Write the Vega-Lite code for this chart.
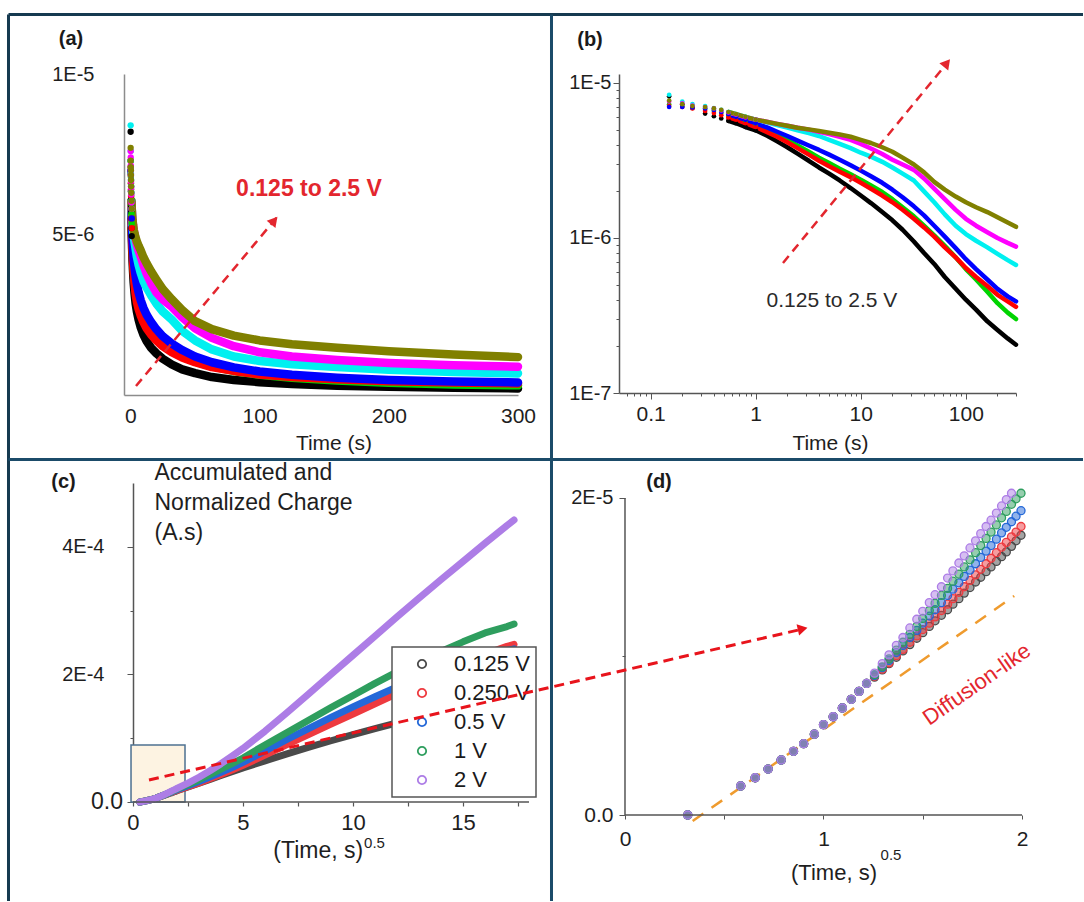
{
"$schema": "https://vega.github.io/schema/vega-lite/v6.json",
"usermeta": {"embedOptions": {"actions": false}},
"background": "white",
"padding": {"left": 6, "top": 12, "right": 0, "bottom": 0},
"autosize": {"type": "pad"},
"config": {
  "font": "Liberation Sans",
  "view": {"stroke": null},
  "axis": {"grid": false, "labelFont": "Liberation Sans", "titleFont": "Liberation Sans", "labelColor": "#1e1e1e", "titleColor": "#1e1e1e", "titleFontWeight": "normal", "labelOverlap": false, "labelFlush": false},
  "legend": {"strokeWidth": 1.5, "labelFont": "Liberation Sans"},
  "text": {"font": "Liberation Sans"}
},
"columns": 2,
"bounds": "flush",
"align": "each",
"spacing": {"row": 88, "column": 90},
"resolve": {"scale": {"color": "independent", "stroke": "independent"}, "legend": {"color": "independent"}},
"datasets": {
"ab": [
{"s":"black","t":0.15,"i":8.2e-6},{"s":"black","t":0.2,"i":7.3e-6},{"s":"black","t":0.25,"i":6.9e-6},{"s":"black","t":0.33,"i":6.35e-6},{"s":"black","t":0.4,"i":6.1e-6},{"s":"black","t":0.47,"i":5.9e-6},{"s":"black","t":0.55,"i":5.7e-6},{"s":"black","t":0.65,"i":5.5e-6},{"s":"black","t":0.8,"i":5.2e-6},{"s":"black","t":1,"i":4.95e-6},{"s":"black","t":1.3,"i":4.55e-6},{"s":"black","t":1.6,"i":4.2e-6},{"s":"black","t":2,"i":3.85e-6},{"s":"black","t":2.5,"i":3.5e-6},{"s":"black","t":3.2,"i":3.15e-6},{"s":"black","t":4,"i":2.85e-6},{"s":"black","t":5,"i":2.6e-6},{"s":"black","t":6.3,"i":2.35e-6},{"s":"black","t":8,"i":2.1e-6},{"s":"black","t":10,"i":1.88e-6},{"s":"black","t":12.5,"i":1.68e-6},{"s":"black","t":16,"i":1.47e-6},{"s":"black","t":20,"i":1.3e-6},{"s":"black","t":25,"i":1.13e-6},{"s":"black","t":32,"i":0.95e-6},{"s":"black","t":40,"i":0.8e-6},{"s":"black","t":50,"i":0.68e-6},{"s":"black","t":63,"i":0.56e-6},{"s":"black","t":80,"i":0.47e-6},{"s":"black","t":100,"i":0.4e-6},{"s":"black","t":125,"i":0.345e-6},{"s":"black","t":160,"i":0.29e-6},{"s":"black","t":200,"i":0.255e-6},{"s":"black","t":250,"i":0.225e-6},{"s":"black","t":300,"i":0.205e-6},
{"s":"green","t":0.15,"i":7.3e-6},{"s":"green","t":0.2,"i":7.1e-6},{"s":"green","t":0.25,"i":6.95e-6},{"s":"green","t":0.33,"i":6.8e-6},{"s":"green","t":0.4,"i":6.6e-6},{"s":"green","t":0.47,"i":6.4e-6},{"s":"green","t":0.55,"i":6.2e-6},{"s":"green","t":0.65,"i":5.95e-6},{"s":"green","t":0.8,"i":5.65e-6},{"s":"green","t":1,"i":5.35e-6},{"s":"green","t":1.3,"i":4.95e-6},{"s":"green","t":1.6,"i":4.65e-6},{"s":"green","t":2,"i":4.3e-6},{"s":"green","t":2.5,"i":3.95e-6},{"s":"green","t":3.2,"i":3.6e-6},{"s":"green","t":4,"i":3.3e-6},{"s":"green","t":5,"i":3.05e-6},{"s":"green","t":6.3,"i":2.8e-6},{"s":"green","t":8,"i":2.58e-6},{"s":"green","t":10,"i":2.38e-6},{"s":"green","t":12.5,"i":2.18e-6},{"s":"green","t":16,"i":1.98e-6},{"s":"green","t":20,"i":1.78e-6},{"s":"green","t":25,"i":1.58e-6},{"s":"green","t":32,"i":1.38e-6},{"s":"green","t":40,"i":1.2e-6},{"s":"green","t":50,"i":1.04e-6},{"s":"green","t":63,"i":0.89e-6},{"s":"green","t":80,"i":0.75e-6},{"s":"green","t":100,"i":0.63e-6},{"s":"green","t":125,"i":0.54e-6},{"s":"green","t":160,"i":0.45e-6},{"s":"green","t":200,"i":0.38e-6},{"s":"green","t":250,"i":0.33e-6},{"s":"green","t":300,"i":0.3e-6},
{"s":"red","t":0.15,"i":7.1e-6},{"s":"red","t":0.2,"i":7.0e-6},{"s":"red","t":0.25,"i":6.85e-6},{"s":"red","t":0.33,"i":6.6e-6},{"s":"red","t":0.4,"i":6.4e-6},{"s":"red","t":0.47,"i":6.2e-6},{"s":"red","t":0.55,"i":6.0e-6},{"s":"red","t":0.65,"i":5.8e-6},{"s":"red","t":0.8,"i":5.5e-6},{"s":"red","t":1,"i":5.2e-6},{"s":"red","t":1.3,"i":4.8e-6},{"s":"red","t":1.6,"i":4.5e-6},{"s":"red","t":2,"i":4.15e-6},{"s":"red","t":2.5,"i":3.8e-6},{"s":"red","t":3.2,"i":3.45e-6},{"s":"red","t":4,"i":3.15e-6},{"s":"red","t":5,"i":2.9e-6},{"s":"red","t":6.3,"i":2.68e-6},{"s":"red","t":8,"i":2.47e-6},{"s":"red","t":10,"i":2.27e-6},{"s":"red","t":12.5,"i":2.08e-6},{"s":"red","t":16,"i":1.88e-6},{"s":"red","t":20,"i":1.7e-6},{"s":"red","t":25,"i":1.52e-6},{"s":"red","t":32,"i":1.33e-6},{"s":"red","t":40,"i":1.17e-6},{"s":"red","t":50,"i":1.02e-6},{"s":"red","t":63,"i":0.87e-6},{"s":"red","t":80,"i":0.75e-6},{"s":"red","t":100,"i":0.64e-6},{"s":"red","t":125,"i":0.56e-6},{"s":"red","t":160,"i":0.49e-6},{"s":"red","t":200,"i":0.43e-6},{"s":"red","t":250,"i":0.39e-6},{"s":"red","t":300,"i":0.36e-6},
{"s":"blue","t":0.15,"i":7.0e-6},{"s":"blue","t":0.2,"i":7.0e-6},{"s":"blue","t":0.25,"i":6.95e-6},{"s":"blue","t":0.33,"i":6.85e-6},{"s":"blue","t":0.4,"i":6.7e-6},{"s":"blue","t":0.47,"i":6.5e-6},{"s":"blue","t":0.55,"i":6.3e-6},{"s":"blue","t":0.65,"i":6.05e-6},{"s":"blue","t":0.8,"i":5.8e-6},{"s":"blue","t":1,"i":5.5e-6},{"s":"blue","t":1.3,"i":5.15e-6},{"s":"blue","t":1.6,"i":4.85e-6},{"s":"blue","t":2,"i":4.55e-6},{"s":"blue","t":2.5,"i":4.25e-6},{"s":"blue","t":3.2,"i":3.95e-6},{"s":"blue","t":4,"i":3.7e-6},{"s":"blue","t":5,"i":3.45e-6},{"s":"blue","t":6.3,"i":3.2e-6},{"s":"blue","t":8,"i":2.95e-6},{"s":"blue","t":10,"i":2.72e-6},{"s":"blue","t":12.5,"i":2.5e-6},{"s":"blue","t":16,"i":2.27e-6},{"s":"blue","t":20,"i":2.05e-6},{"s":"blue","t":25,"i":1.83e-6},{"s":"blue","t":32,"i":1.6e-6},{"s":"blue","t":40,"i":1.4e-6},{"s":"blue","t":50,"i":1.2e-6},{"s":"blue","t":63,"i":1.02e-6},{"s":"blue","t":80,"i":0.86e-6},{"s":"blue","t":100,"i":0.73e-6},{"s":"blue","t":125,"i":0.63e-6},{"s":"blue","t":160,"i":0.54e-6},{"s":"blue","t":200,"i":0.47e-6},{"s":"blue","t":250,"i":0.42e-6},{"s":"blue","t":300,"i":0.39e-6},
{"s":"cyan","t":0.15,"i":8.4e-6},{"s":"cyan","t":0.2,"i":7.6e-6},{"s":"cyan","t":0.25,"i":7.3e-6},{"s":"cyan","t":0.33,"i":7.1e-6},{"s":"cyan","t":0.4,"i":6.9e-6},{"s":"cyan","t":0.47,"i":6.7e-6},{"s":"cyan","t":0.55,"i":6.5e-6},{"s":"cyan","t":0.65,"i":6.3e-6},{"s":"cyan","t":0.8,"i":6.05e-6},{"s":"cyan","t":1,"i":5.8e-6},{"s":"cyan","t":1.3,"i":5.55e-6},{"s":"cyan","t":1.6,"i":5.35e-6},{"s":"cyan","t":2,"i":5.15e-6},{"s":"cyan","t":2.5,"i":4.95e-6},{"s":"cyan","t":3.2,"i":4.75e-6},{"s":"cyan","t":4,"i":4.55e-6},{"s":"cyan","t":5,"i":4.3e-6},{"s":"cyan","t":6.3,"i":4.05e-6},{"s":"cyan","t":8,"i":3.8e-6},{"s":"cyan","t":10,"i":3.55e-6},{"s":"cyan","t":12.5,"i":3.35e-6},{"s":"cyan","t":16,"i":3.1e-6},{"s":"cyan","t":20,"i":2.85e-6},{"s":"cyan","t":25,"i":2.6e-6},{"s":"cyan","t":32,"i":2.35e-6},{"s":"cyan","t":40,"i":2.0e-6},{"s":"cyan","t":50,"i":1.7e-6},{"s":"cyan","t":63,"i":1.42e-6},{"s":"cyan","t":80,"i":1.2e-6},{"s":"cyan","t":100,"i":1.06e-6},{"s":"cyan","t":125,"i":0.96e-6},{"s":"cyan","t":160,"i":0.87e-6},{"s":"cyan","t":200,"i":0.79e-6},{"s":"cyan","t":250,"i":0.72e-6},{"s":"cyan","t":300,"i":0.67e-6},
{"s":"magenta","t":0.15,"i":7.6e-6},{"s":"magenta","t":0.2,"i":7.4e-6},{"s":"magenta","t":0.25,"i":7.15e-6},{"s":"magenta","t":0.33,"i":7.0e-6},{"s":"magenta","t":0.4,"i":6.85e-6},{"s":"magenta","t":0.47,"i":6.65e-6},{"s":"magenta","t":0.55,"i":6.45e-6},{"s":"magenta","t":0.65,"i":6.25e-6},{"s":"magenta","t":0.8,"i":6.0e-6},{"s":"magenta","t":1,"i":5.8e-6},{"s":"magenta","t":1.3,"i":5.6e-6},{"s":"magenta","t":1.6,"i":5.45e-6},{"s":"magenta","t":2,"i":5.3e-6},{"s":"magenta","t":2.5,"i":5.15e-6},{"s":"magenta","t":3.2,"i":5.0e-6},{"s":"magenta","t":4,"i":4.85e-6},{"s":"magenta","t":5,"i":4.68e-6},{"s":"magenta","t":6.3,"i":4.5e-6},{"s":"magenta","t":8,"i":4.3e-6},{"s":"magenta","t":10,"i":4.05e-6},{"s":"magenta","t":12.5,"i":3.78e-6},{"s":"magenta","t":16,"i":3.48e-6},{"s":"magenta","t":20,"i":3.2e-6},{"s":"magenta","t":25,"i":2.98e-6},{"s":"magenta","t":32,"i":2.75e-6},{"s":"magenta","t":40,"i":2.42e-6},{"s":"magenta","t":50,"i":2.08e-6},{"s":"magenta","t":63,"i":1.78e-6},{"s":"magenta","t":80,"i":1.52e-6},{"s":"magenta","t":100,"i":1.33e-6},{"s":"magenta","t":125,"i":1.2e-6},{"s":"magenta","t":160,"i":1.09e-6},{"s":"magenta","t":200,"i":1.0e-6},{"s":"magenta","t":250,"i":0.93e-6},{"s":"magenta","t":300,"i":0.88e-6},
{"s":"olive","t":0.15,"i":7.7e-6},{"s":"olive","t":0.2,"i":7.3e-6},{"s":"olive","t":0.25,"i":7.1e-6},{"s":"olive","t":0.33,"i":7.0e-6},{"s":"olive","t":0.4,"i":6.85e-6},{"s":"olive","t":0.47,"i":6.7e-6},{"s":"olive","t":0.55,"i":6.5e-6},{"s":"olive","t":0.65,"i":6.3e-6},{"s":"olive","t":0.8,"i":6.05e-6},{"s":"olive","t":1,"i":5.8e-6},{"s":"olive","t":1.3,"i":5.6e-6},{"s":"olive","t":1.6,"i":5.45e-6},{"s":"olive","t":2,"i":5.3e-6},{"s":"olive","t":2.5,"i":5.15e-6},{"s":"olive","t":3.2,"i":5.02e-6},{"s":"olive","t":4,"i":4.9e-6},{"s":"olive","t":5,"i":4.78e-6},{"s":"olive","t":6.3,"i":4.65e-6},{"s":"olive","t":8,"i":4.5e-6},{"s":"olive","t":10,"i":4.3e-6},{"s":"olive","t":12.5,"i":4.1e-6},{"s":"olive","t":16,"i":3.85e-6},{"s":"olive","t":20,"i":3.6e-6},{"s":"olive","t":25,"i":3.3e-6},{"s":"olive","t":32,"i":2.98e-6},{"s":"olive","t":40,"i":2.65e-6},{"s":"olive","t":50,"i":2.3e-6},{"s":"olive","t":63,"i":2.05e-6},{"s":"olive","t":80,"i":1.85e-6},{"s":"olive","t":100,"i":1.7e-6},{"s":"olive","t":125,"i":1.58e-6},{"s":"olive","t":160,"i":1.47e-6},{"s":"olive","t":200,"i":1.36e-6},{"s":"olive","t":250,"i":1.26e-6},{"s":"olive","t":300,"i":1.18e-6}
],
"cd": [
{"s":"0.125 V","v":0.316,"q":0},{"s":"0.125 V","v":0.583,"q":1.83e-6},{"s":"0.125 V","v":0.656,"q":2.35e-6},{"s":"0.125 V","v":0.721,"q":2.9e-6},{"s":"0.125 V","v":0.787,"q":3.47e-6},{"s":"0.125 V","v":0.849,"q":4.02e-6},{"s":"0.125 V","v":0.9,"q":4.5e-6},{"s":"0.125 V","v":0.954,"q":5.1e-6},{"s":"0.125 V","v":1.0,"q":5.7e-6},{"s":"0.125 V","v":1.049,"q":6.2e-6},{"s":"0.125 V","v":1.095,"q":6.75e-6},{"s":"0.125 V","v":1.14,"q":7.3e-6},{"s":"0.125 V","v":1.179,"q":7.8e-6},{"s":"0.125 V","v":1.217,"q":8.3e-6},
{"s":"0.125 V","v":1.257,"q":8.7e-6},{"s":"0.125 V","v":1.296,"q":9.15e-6},{"s":"0.125 V","v":1.33,"q":9.55e-6},{"s":"0.125 V","v":1.367,"q":9.95e-6},{"s":"0.125 V","v":1.4,"q":10.35e-6},{"s":"0.125 V","v":1.435,"q":10.75e-6},{"s":"0.125 V","v":1.47,"q":11.15e-6},{"s":"0.125 V","v":1.5,"q":11.5e-6},{"s":"0.125 V","v":1.533,"q":11.9e-6},{"s":"0.125 V","v":1.562,"q":12.25e-6},{"s":"0.125 V","v":1.594,"q":12.6e-6},{"s":"0.125 V","v":1.625,"q":12.95e-6},{"s":"0.125 V","v":1.652,"q":13.3e-6},{"s":"0.125 V","v":1.682,"q":13.65e-6},{"s":"0.125 V","v":1.709,"q":14.0e-6},{"s":"0.125 V","v":1.738,"q":14.35e-6},{"s":"0.125 V","v":1.766,"q":14.7e-6},{"s":"0.125 V","v":1.792,"q":15.0e-6},{"s":"0.125 V","v":1.819,"q":15.35e-6},{"s":"0.125 V","v":1.844,"q":15.65e-6},{"s":"0.125 V","v":1.871,"q":16.0e-6},{"s":"0.125 V","v":1.897,"q":16.3e-6},{"s":"0.125 V","v":1.921,"q":16.6e-6},{"s":"0.125 V","v":1.947,"q":16.95e-6},{"s":"0.125 V","v":1.97,"q":17.3e-6},{"s":"0.125 V","v":1.995,"q":17.65e-6},
{"s":"0.125 V","v":2.5,"q":23.5e-6},{"s":"0.125 V","v":3,"q":29.5e-6},{"s":"0.125 V","v":3.5,"q":35.5e-6},{"s":"0.125 V","v":4,"q":41.5e-6},{"s":"0.125 V","v":4.5,"q":47.5e-6},{"s":"0.125 V","v":5,"q":53.5e-6},{"s":"0.125 V","v":6,"q":64.5e-6},{"s":"0.125 V","v":7,"q":75.5e-6},{"s":"0.125 V","v":8,"q":86e-6},{"s":"0.125 V","v":9,"q":96e-6},{"s":"0.125 V","v":10,"q":105.5e-6},{"s":"0.125 V","v":11,"q":115e-6},{"s":"0.125 V","v":12,"q":124e-6},{"s":"0.125 V","v":13,"q":133e-6},{"s":"0.125 V","v":14,"q":141.5e-6},{"s":"0.125 V","v":15,"q":150e-6},{"s":"0.125 V","v":16,"q":158e-6},{"s":"0.125 V","v":17,"q":166e-6},{"s":"0.125 V","v":17.32,"q":168.5e-6},
{"s":"0.250 V","v":0.316,"q":0},{"s":"0.250 V","v":0.583,"q":1.83e-6},{"s":"0.250 V","v":0.656,"q":2.35e-6},{"s":"0.250 V","v":0.721,"q":2.9e-6},{"s":"0.250 V","v":0.787,"q":3.47e-6},{"s":"0.250 V","v":0.849,"q":4.02e-6},{"s":"0.250 V","v":0.9,"q":4.5e-6},{"s":"0.250 V","v":0.954,"q":5.1e-6},{"s":"0.250 V","v":1.0,"q":5.7e-6},{"s":"0.250 V","v":1.049,"q":6.2e-6},{"s":"0.250 V","v":1.095,"q":6.75e-6},{"s":"0.250 V","v":1.14,"q":7.3e-6},{"s":"0.250 V","v":1.179,"q":7.8e-6},{"s":"0.250 V","v":1.217,"q":8.3e-6},
{"s":"0.250 V","v":1.257,"q":8.75e-6},{"s":"0.250 V","v":1.296,"q":9.2e-6},{"s":"0.250 V","v":1.33,"q":9.6e-6},{"s":"0.250 V","v":1.367,"q":10.05e-6},{"s":"0.250 V","v":1.4,"q":10.45e-6},{"s":"0.250 V","v":1.435,"q":10.9e-6},{"s":"0.250 V","v":1.47,"q":11.3e-6},{"s":"0.250 V","v":1.5,"q":11.7e-6},{"s":"0.250 V","v":1.533,"q":12.1e-6},{"s":"0.250 V","v":1.562,"q":12.5e-6},{"s":"0.250 V","v":1.594,"q":12.9e-6},{"s":"0.250 V","v":1.625,"q":13.3e-6},{"s":"0.250 V","v":1.652,"q":13.65e-6},{"s":"0.250 V","v":1.682,"q":14.05e-6},{"s":"0.250 V","v":1.709,"q":14.4e-6},{"s":"0.250 V","v":1.738,"q":14.8e-6},{"s":"0.250 V","v":1.766,"q":15.15e-6},{"s":"0.250 V","v":1.792,"q":15.5e-6},{"s":"0.250 V","v":1.819,"q":15.85e-6},{"s":"0.250 V","v":1.844,"q":16.2e-6},{"s":"0.250 V","v":1.871,"q":16.55e-6},{"s":"0.250 V","v":1.897,"q":16.9e-6},{"s":"0.250 V","v":1.921,"q":17.2e-6},{"s":"0.250 V","v":1.947,"q":17.55e-6},{"s":"0.250 V","v":1.97,"q":17.85e-6},{"s":"0.250 V","v":1.995,"q":18.2e-6},
{"s":"0.250 V","v":2.5,"q":24e-6},{"s":"0.250 V","v":3,"q":30e-6},{"s":"0.250 V","v":3.5,"q":36.5e-6},{"s":"0.250 V","v":4,"q":43e-6},{"s":"0.250 V","v":4.5,"q":50e-6},{"s":"0.250 V","v":5,"q":57.5e-6},{"s":"0.250 V","v":6,"q":73.5e-6},{"s":"0.250 V","v":7,"q":90e-6},{"s":"0.250 V","v":8,"q":106e-6},{"s":"0.250 V","v":9,"q":122e-6},{"s":"0.250 V","v":10,"q":138e-6},{"s":"0.250 V","v":11,"q":154e-6},{"s":"0.250 V","v":12,"q":170e-6},{"s":"0.250 V","v":13,"q":186e-6},{"s":"0.250 V","v":14,"q":202e-6},{"s":"0.250 V","v":15,"q":217e-6},{"s":"0.250 V","v":16,"q":232e-6},{"s":"0.250 V","v":17,"q":244e-6},{"s":"0.250 V","v":17.32,"q":247e-6},
{"s":"0.5 V","v":0.316,"q":0},{"s":"0.5 V","v":0.583,"q":1.83e-6},{"s":"0.5 V","v":0.656,"q":2.35e-6},{"s":"0.5 V","v":0.721,"q":2.9e-6},{"s":"0.5 V","v":0.787,"q":3.47e-6},{"s":"0.5 V","v":0.849,"q":4.02e-6},{"s":"0.5 V","v":0.9,"q":4.5e-6},{"s":"0.5 V","v":0.954,"q":5.1e-6},{"s":"0.5 V","v":1.0,"q":5.7e-6},{"s":"0.5 V","v":1.049,"q":6.2e-6},{"s":"0.5 V","v":1.095,"q":6.75e-6},{"s":"0.5 V","v":1.14,"q":7.3e-6},{"s":"0.5 V","v":1.179,"q":7.8e-6},{"s":"0.5 V","v":1.217,"q":8.3e-6},
{"s":"0.5 V","v":1.257,"q":8.8e-6},{"s":"0.5 V","v":1.296,"q":9.3e-6},{"s":"0.5 V","v":1.33,"q":9.75e-6},{"s":"0.5 V","v":1.367,"q":10.25e-6},{"s":"0.5 V","v":1.4,"q":10.7e-6},{"s":"0.5 V","v":1.435,"q":11.2e-6},{"s":"0.5 V","v":1.47,"q":11.65e-6},{"s":"0.5 V","v":1.5,"q":12.1e-6},{"s":"0.5 V","v":1.533,"q":12.55e-6},{"s":"0.5 V","v":1.562,"q":12.95e-6},{"s":"0.5 V","v":1.594,"q":13.4e-6},{"s":"0.5 V","v":1.625,"q":13.85e-6},{"s":"0.5 V","v":1.652,"q":14.25e-6},{"s":"0.5 V","v":1.682,"q":14.65e-6},{"s":"0.5 V","v":1.709,"q":15.05e-6},{"s":"0.5 V","v":1.738,"q":15.45e-6},{"s":"0.5 V","v":1.766,"q":15.85e-6},{"s":"0.5 V","v":1.792,"q":16.25e-6},{"s":"0.5 V","v":1.819,"q":16.65e-6},{"s":"0.5 V","v":1.844,"q":17.0e-6},{"s":"0.5 V","v":1.871,"q":17.4e-6},{"s":"0.5 V","v":1.897,"q":17.8e-6},{"s":"0.5 V","v":1.921,"q":18.15e-6},{"s":"0.5 V","v":1.947,"q":18.5e-6},{"s":"0.5 V","v":1.97,"q":18.85e-6},{"s":"0.5 V","v":1.995,"q":19.2e-6},
{"s":"0.5 V","v":2.5,"q":25.5e-6},{"s":"0.5 V","v":3,"q":32e-6},{"s":"0.5 V","v":3.5,"q":39e-6},{"s":"0.5 V","v":4,"q":46.5e-6},{"s":"0.5 V","v":4.5,"q":54e-6},{"s":"0.5 V","v":5,"q":62e-6},{"s":"0.5 V","v":6,"q":80e-6},{"s":"0.5 V","v":7,"q":98e-6},{"s":"0.5 V","v":8,"q":115.5e-6},{"s":"0.5 V","v":9,"q":132.5e-6},{"s":"0.5 V","v":10,"q":149e-6},{"s":"0.5 V","v":11,"q":165e-6},{"s":"0.5 V","v":12,"q":180.5e-6},{"s":"0.5 V","v":13,"q":194e-6},{"s":"0.5 V","v":14,"q":206.5e-6},{"s":"0.5 V","v":15,"q":218e-6},{"s":"0.5 V","v":16,"q":228.5e-6},{"s":"0.5 V","v":17,"q":237.5e-6},{"s":"0.5 V","v":17.32,"q":240e-6},
{"s":"1 V","v":0.316,"q":0},{"s":"1 V","v":0.583,"q":1.83e-6},{"s":"1 V","v":0.656,"q":2.35e-6},{"s":"1 V","v":0.721,"q":2.9e-6},{"s":"1 V","v":0.787,"q":3.47e-6},{"s":"1 V","v":0.849,"q":4.02e-6},{"s":"1 V","v":0.9,"q":4.5e-6},{"s":"1 V","v":0.954,"q":5.1e-6},{"s":"1 V","v":1.0,"q":5.7e-6},{"s":"1 V","v":1.049,"q":6.2e-6},{"s":"1 V","v":1.095,"q":6.75e-6},{"s":"1 V","v":1.14,"q":7.3e-6},{"s":"1 V","v":1.179,"q":7.8e-6},{"s":"1 V","v":1.217,"q":8.3e-6},
{"s":"1 V","v":1.257,"q":8.85e-6},{"s":"1 V","v":1.296,"q":9.35e-6},{"s":"1 V","v":1.33,"q":9.85e-6},{"s":"1 V","v":1.367,"q":10.4e-6},{"s":"1 V","v":1.4,"q":10.9e-6},{"s":"1 V","v":1.435,"q":11.4e-6},{"s":"1 V","v":1.47,"q":11.9e-6},{"s":"1 V","v":1.5,"q":12.4e-6},{"s":"1 V","v":1.533,"q":12.9e-6},{"s":"1 V","v":1.562,"q":13.35e-6},{"s":"1 V","v":1.594,"q":13.85e-6},{"s":"1 V","v":1.625,"q":14.3e-6},{"s":"1 V","v":1.652,"q":14.75e-6},{"s":"1 V","v":1.682,"q":15.2e-6},{"s":"1 V","v":1.709,"q":15.65e-6},{"s":"1 V","v":1.738,"q":16.1e-6},{"s":"1 V","v":1.766,"q":16.55e-6},{"s":"1 V","v":1.792,"q":17.0e-6},{"s":"1 V","v":1.819,"q":17.45e-6},{"s":"1 V","v":1.844,"q":17.85e-6},{"s":"1 V","v":1.871,"q":18.3e-6},{"s":"1 V","v":1.897,"q":18.75e-6},{"s":"1 V","v":1.921,"q":19.15e-6},{"s":"1 V","v":1.947,"q":19.6e-6},{"s":"1 V","v":1.97,"q":19.95e-6},{"s":"1 V","v":1.995,"q":20.3e-6},
{"s":"1 V","v":2.5,"q":27.5e-6},{"s":"1 V","v":3,"q":35e-6},{"s":"1 V","v":3.5,"q":43e-6},{"s":"1 V","v":4,"q":51.5e-6},{"s":"1 V","v":4.5,"q":60e-6},{"s":"1 V","v":5,"q":69e-6},{"s":"1 V","v":6,"q":89.5e-6},{"s":"1 V","v":7,"q":109e-6},{"s":"1 V","v":8,"q":128.5e-6},{"s":"1 V","v":9,"q":148e-6},{"s":"1 V","v":10,"q":167e-6},{"s":"1 V","v":11,"q":186e-6},{"s":"1 V","v":12,"q":204e-6},{"s":"1 V","v":13,"q":220e-6},{"s":"1 V","v":14,"q":236e-6},{"s":"1 V","v":15,"q":251e-6},{"s":"1 V","v":16,"q":265e-6},{"s":"1 V","v":17,"q":275e-6},{"s":"1 V","v":17.32,"q":279e-6},
{"s":"2 V","v":0.316,"q":0},{"s":"2 V","v":0.583,"q":1.83e-6},{"s":"2 V","v":0.656,"q":2.35e-6},{"s":"2 V","v":0.721,"q":2.9e-6},{"s":"2 V","v":0.787,"q":3.47e-6},{"s":"2 V","v":0.849,"q":4.02e-6},{"s":"2 V","v":0.9,"q":4.5e-6},{"s":"2 V","v":0.954,"q":5.1e-6},{"s":"2 V","v":1.0,"q":5.7e-6},{"s":"2 V","v":1.049,"q":6.2e-6},{"s":"2 V","v":1.095,"q":6.75e-6},{"s":"2 V","v":1.14,"q":7.3e-6},{"s":"2 V","v":1.179,"q":7.8e-6},{"s":"2 V","v":1.217,"q":8.3e-6},
{"s":"2 V","v":1.257,"q":8.95e-6},{"s":"2 V","v":1.296,"q":9.55e-6},{"s":"2 V","v":1.33,"q":10.1e-6},{"s":"2 V","v":1.367,"q":10.7e-6},{"s":"2 V","v":1.4,"q":11.2e-6},{"s":"2 V","v":1.435,"q":11.8e-6},{"s":"2 V","v":1.47,"q":12.35e-6},{"s":"2 V","v":1.5,"q":12.85e-6},{"s":"2 V","v":1.533,"q":13.4e-6},{"s":"2 V","v":1.562,"q":13.9e-6},{"s":"2 V","v":1.594,"q":14.4e-6},{"s":"2 V","v":1.625,"q":14.95e-6},{"s":"2 V","v":1.652,"q":15.4e-6},{"s":"2 V","v":1.682,"q":15.9e-6},{"s":"2 V","v":1.709,"q":16.35e-6},{"s":"2 V","v":1.738,"q":16.85e-6},{"s":"2 V","v":1.766,"q":17.3e-6},{"s":"2 V","v":1.792,"q":17.75e-6},{"s":"2 V","v":1.819,"q":18.2e-6},{"s":"2 V","v":1.844,"q":18.6e-6},{"s":"2 V","v":1.871,"q":19.05e-6},{"s":"2 V","v":1.897,"q":19.5e-6},{"s":"2 V","v":1.921,"q":19.9e-6},{"s":"2 V","v":1.947,"q":20.3e-6},{"s":"2 V","v":1.97,"q":20.7e-6},{"s":"2 V","v":1.995,"q":21.1e-6},
{"s":"2 V","v":2.5,"q":29.5e-6},{"s":"2 V","v":3,"q":38.8e-6},{"s":"2 V","v":3.5,"q":49e-6},{"s":"2 V","v":4,"q":60e-6},{"s":"2 V","v":4.5,"q":71.8e-6},{"s":"2 V","v":5,"q":84e-6},{"s":"2 V","v":6,"q":111e-6},{"s":"2 V","v":7,"q":140e-6},{"s":"2 V","v":8,"q":170e-6},{"s":"2 V","v":9,"q":200e-6},{"s":"2 V","v":10,"q":230e-6},{"s":"2 V","v":11,"q":260e-6},{"s":"2 V","v":12,"q":290e-6},{"s":"2 V","v":13,"q":319.5e-6},{"s":"2 V","v":14,"q":348.5e-6},{"s":"2 V","v":15,"q":377e-6},{"s":"2 V","v":16,"q":405.5e-6},{"s":"2 V","v":17,"q":433.5e-6},{"s":"2 V","v":17.32,"q":442e-6}
]
},
"concat": [
{
  "width": 394, "height": 321,
  "layer": [
    {"data": {"name": "ab"}, "transform": [{"filter": "datum.t >= 0.8"}],
     "mark": {"type": "line", "strokeWidth": 8.5, "strokeCap": "round", "strokeJoin": "round"},
     "encoding": {
       "x": {"field": "t", "type": "quantitative", "scale": {"domain": [-5, 300], "nice": false, "zero": false},
             "axis": {"values": [0, 100, 200, 300], "title": "Time (s)", "domainColor": "#8c8c8c", "domainWidth": 1.5, "ticks": false, "labelFontSize": 21, "labelPadding": 10, "titleFontSize": 21, "titleX": 209.5, "titleY": 54.3, "titleAlign": "center", "titleBaseline": "alphabetic", "titleAnchor": null}},
       "y": {"field": "i", "type": "quantitative", "scale": {"domain": [0, 1e-5], "nice": false, "zero": false},
             "axis": {"values": [5e-6, 1e-5], "title": null, "labelExpr": "replace(format(datum.value, '.0e'), 'e', 'E')", "domainColor": "#8c8c8c", "domainWidth": 1.5, "ticks": false, "labelFontSize": 20, "labelPadding": 30}},
       "color": {"field": "s", "type": "nominal", "scale": {"domain": ["black", "green", "red", "blue", "cyan", "magenta", "olive"], "range": ["#000000", "#00d400", "#ff0000", "#0000ff", "#00f0f0", "#ff00ff", "#808000"]}, "legend": null}
     }},
    {"data": {"name": "ab"}, "transform": [{"filter": "datum.t <= 1"}],
     "mark": {"type": "circle", "size": 40, "opacity": 1},
     "encoding": {"x": {"field": "t", "type": "quantitative"}, "y": {"field": "i", "type": "quantitative"}, "color": {"field": "s", "type": "nominal", "legend": null}}},
    {"data": {"values": [{}]}, "mark": {"type": "rule", "color": "#e3262e", "strokeWidth": 2.5, "strokeDash": [9, 6]},
     "encoding": {"x": {"datum": 4.29}, "y": {"datum": 2.804e-7}, "x2": {"datum": 114.2}, "y2": {"datum": 5.5763e-6}}},
    {"data": {"values": [{}]}, "mark": {"type": "point", "shape": "triangle-up", "filled": true, "size": 130, "angle": 40, "color": "#e3262e", "opacity": 1},
     "encoding": {"x": {"datum": 111.3}, "y": {"datum": 5.433e-6}}},
    {"data": {"values": [{}]}, "mark": {"type": "text", "text": "0.125 to 2.5 V", "fontSize": 23, "fontWeight": "bold", "color": "#e3262e", "align": "center", "baseline": "middle"},
     "encoding": {"x": {"datum": 138.2}, "y": {"datum": 6.4174e-6}}},
    {"data": {"values": [{}]}, "mark": {"type": "text", "text": "(a)", "fontSize": 20, "fontWeight": "bold", "color": "#1a1a1a", "align": "center", "baseline": "middle"},
     "encoding": {"x": {"datum": -46.03}, "y": {"datum": 1.10903e-5}}},
    {"data": {"values": [{}]}, "mark": {"type": "rule", "color": "#163a50", "strokeWidth": 3},
     "encoding": {"x": {"datum": -94.41}, "y": {"datum": 1.18536e-5}, "x2": {"datum": 737.37}, "y2": {"datum": 1.18536e-5}}},
    {"data": {"values": [{}]}, "mark": {"type": "rule", "color": "#163a50", "strokeWidth": 3},
     "encoding": {"x": {"datum": -94.41}, "y": {"datum": 1.18536e-5}, "x2": {"datum": -94.41}, "y2": {"datum": -1.57632e-5}}},
    {"data": {"values": [{}]}, "mark": {"type": "rule", "color": "#1b4b69", "strokeWidth": 3},
     "encoding": {"x": {"datum": 325.93}, "y": {"datum": 1.18536e-5}, "x2": {"datum": 325.93}, "y2": {"datum": -1.57632e-5}}},
    {"data": {"values": [{}]}, "mark": {"type": "rule", "color": "#1b4b69", "strokeWidth": 3},
     "encoding": {"x": {"datum": -94.41}, "y": {"datum": -2.00934e-6}, "x2": {"datum": 737.37}, "y2": {"datum": -2.00934e-6}}}
  ]
},
{
  "width": 397, "height": 319,
  "layer": [
    {"data": {"name": "ab"}, "transform": [{"filter": "datum.t >= 0.55"}],
     "mark": {"type": "line", "strokeWidth": 4.5, "strokeCap": "round", "strokeJoin": "round"},
     "encoding": {
       "x": {"field": "t", "type": "quantitative", "scale": {"type": "log", "domain": [0.05, 300], "nice": false},
             "axis": {"values": [0.06,0.07,0.08,0.09,0.1,0.2,0.3,0.4,0.5,0.6,0.7,0.8,0.9,1,2,3,4,5,6,7,8,9,10,20,30,40,50,60,70,80,90,100,200,300],
                      "labelExpr": "datum.value == 0.1 ? '0.1' : datum.value == 1 ? '1' : datum.value == 10 ? '10' : datum.value == 100 ? '100' : ''",
                      "tickSize": {"condition": {"test": "datum.value == 0.1 || datum.value == 1 || datum.value == 10 || datum.value == 100", "value": 6}, "value": 3},
                      "tickColor": "#555", "domainColor": "#555", "domainWidth": 1.5, "labelFontSize": 21, "labelPadding": 4,
                      "title": "Time (s)", "titleFontSize": 21, "titleX": 211, "titleY": 56.3, "titleAlign": "center", "titleBaseline": "alphabetic", "titleAnchor": null}},
       "y": {"field": "i", "type": "quantitative", "scale": {"type": "log", "domain": [1e-7, 1.143e-5], "nice": false},
             "axis": {"values": [1e-7,2e-7,3e-7,4e-7,5e-7,6e-7,7e-7,8e-7,9e-7,1e-6,2e-6,3e-6,4e-6,5e-6,6e-6,7e-6,8e-6,9e-6,1e-5],
                      "labelExpr": "datum.value == 1e-7 ? '1E-7' : datum.value == 1e-6 ? '1E-6' : datum.value == 1e-5 ? '1E-5' : ''",
                      "tickSize": {"condition": {"test": "datum.value == 1e-7 || datum.value == 1e-6 || datum.value == 1e-5", "value": 6}, "value": 3},
                      "tickColor": "#555", "domainColor": "#555", "domainWidth": 1.5, "labelFontSize": 20, "labelPadding": 2, "title": null}},
       "color": {"field": "s", "type": "nominal", "scale": {"domain": ["black", "green", "red", "blue", "cyan", "magenta", "olive"], "range": ["#000000", "#00d400", "#ff0000", "#0000ff", "#00f0f0", "#ff00ff", "#808000"]}, "legend": null}
     }},
    {"data": {"name": "ab"}, "transform": [{"filter": "datum.t <= 1"}],
     "mark": {"type": "circle", "size": 22, "opacity": 1},
     "encoding": {"x": {"field": "t", "type": "quantitative"}, "y": {"field": "i", "type": "quantitative"}, "color": {"field": "s", "type": "nominal", "legend": null}}},
    {"data": {"values": [{}]}, "mark": {"type": "rule", "color": "#e3262e", "strokeWidth": 2.5, "strokeDash": [9, 6]},
     "encoding": {"x": {"datum": 1.8183}, "y": {"datum": 6.8986e-7}, "x2": {"datum": 66.5}, "y2": {"datum": 1.35e-5}}},
    {"data": {"values": [{}]}, "mark": {"type": "point", "shape": "triangle-up", "filled": true, "size": 130, "angle": 39, "color": "#e3262e", "opacity": 1},
     "encoding": {"x": {"datum": 66.0}, "y": {"datum": 1.345e-5}}},
    {"data": {"values": [{}]}, "mark": {"type": "text", "text": "0.125 to 2.5 V", "fontSize": 21, "color": "#2a2a2a", "align": "center", "baseline": "middle"},
     "encoding": {"x": {"datum": 5.3212}, "y": {"datum": 3.9234e-7}}},
    {"data": {"values": [{}]}, "mark": {"type": "text", "text": "(b)", "fontSize": 20, "fontWeight": "bold", "color": "#1a1a1a", "align": "center", "baseline": "middle"},
     "encoding": {"x": {"datum": 0.026485}, "y": {"datum": 1.8942e-5}}}
  ]
},
{
  "width": 405, "height": 319,
  "layer": [
    {"data": {"values": [{}]}, "mark": {"type": "rect", "fill": "#fdf3e2", "stroke": "#4d7191", "strokeWidth": 1.5},
     "encoding": {"x": {"datum": -0.09}, "x2": {"datum": 2.364}, "y": {"datum": 0}, "y2": {"datum": 8.93e-5}}},
    {"data": {"name": "cd"},
     "mark": {"type": "line", "strokeWidth": 7, "strokeCap": "round", "strokeJoin": "round"},
     "encoding": {
       "x": {"field": "v", "type": "quantitative", "scale": {"domain": [-0.409, 18], "nice": false, "zero": false},
             "axis": {"values": [0, 2.5, 5, 7.5, 10, 12.5, 15, 17.5], "labelExpr": "datum.value % 5 == 0 ? '' + datum.value : ''", "domain": false, "tickSize": 4, "tickColor": "#555", "tickWidth": 1.2, "labelFontSize": 22, "labelPadding": 6,
                      "title": "(Time, s)", "titleFontSize": 23, "titleX": 193.7, "titleY": 55.7, "titleAlign": "center", "titleBaseline": "alphabetic", "titleAnchor": null}},
       "y": {"field": "q", "type": "quantitative", "scale": {"domain": [0, 5e-4], "nice": false, "zero": false},
             "axis": {"values": [0, 1e-4, 2e-4, 3e-4, 4e-4], "offset": -9,
                      "labelExpr": "datum.value == 2e-4 ? '2E-4' : datum.value == 4e-4 ? '4E-4' : ''",
                      "domainColor": "#555", "domainWidth": 1.5, "tickColor": "#555",
                      "tickSize": {"condition": {"test": "datum.value == 1e-4 || datum.value == 3e-4", "value": 3}, "value": 6},
                      "labelFontSize": 20, "labelPadding": 23,
                      "title": ["Accumulated and", "Normalized Charge", "(A.s)"], "titleAngle": 0, "titleAlign": "left", "titleBaseline": "alphabetic", "titleFontSize": 23, "titleLineHeight": 30, "titleX": 21, "titleY": -4, "titleAnchor": null}},
       "color": {"field": "s", "type": "nominal", "scale": {"domain": ["0.125 V", "0.250 V", "0.5 V", "1 V", "2 V"], "range": ["#4a4a4a", "#ee3a3f", "#2468d8", "#2e9e5e", "#ad7de6"]},
                 "legend": {"orient": "none", "legendX": 268, "legendY": 164, "title": null, "symbolType": "circle", "symbolSize": 70, "symbolStrokeWidth": 1.8, "labelFontSize": 22, "labelColor": "#1a1a1a", "rowPadding": 7, "padding": 6, "strokeColor": "#555", "fillColor": "white", "symbolOffset": 13, "labelOffset": 21}}
     }},
    {"data": {"values": [{}]}, "mark": {"type": "rule", "color": "#555", "strokeWidth": 1.5},
     "encoding": {"x": {"datum": 0}, "y": {"datum": 0}, "x2": {"datum": 18}, "y2": {"datum": 0}}},
    {"data": {"values": [{}]}, "mark": {"type": "text", "text": "0.0", "fontSize": 23, "color": "#1e1e1e", "align": "right", "baseline": "middle"},
     "encoding": {"x": {"datum": -0.4545}, "y": {"datum": 0}}},
    {"data": {"values": [{}]}, "mark": {"type": "text", "text": "0.5", "fontSize": 15, "color": "#1e1e1e", "align": "center", "baseline": "middle"},
     "encoding": {"x": {"datum": 10.977}, "y": {"datum": -6.426e-5}}},
    {"data": {"values": [{}]}, "mark": {"type": "text", "text": "(c)", "fontSize": 20, "fontWeight": "bold", "color": "#1a1a1a", "align": "center", "baseline": "middle"},
     "encoding": {"x": {"datum": -3.159}, "y": {"datum": 5.0157e-4}}}
  ]
},
{
  "width": 403, "height": 332,
  "layer": [
    {"data": {"values": [{}]}, "mark": {"type": "rule", "color": "#ef9b2e", "strokeWidth": 2.5, "strokeDash": [13, 10]},
     "encoding": {"x": {"datum": 0.341}, "y": {"datum": -0.379e-6}, "x2": {"datum": 1.961}, "y2": {"datum": 13.82e-6}}},
    {"data": {"name": "cd"}, "transform": [{"filter": "datum.v <= 2.01 && datum.q <= 2.04e-5"}],
     "mark": {"type": "point", "filled": true, "size": 64, "fillOpacity": 0.5, "strokeWidth": 1.3, "strokeOpacity": 1},
     "encoding": {
       "x": {"field": "v", "type": "quantitative", "scale": {"domain": [-0.0302, 2], "nice": false, "zero": false},
             "axis": {"values": [0, 0.5, 1, 1.5, 2], "labelExpr": "datum.value == 0 ? '0' : datum.value == 1 ? '1' : datum.value == 2 ? '2' : ''", "domain": false, "tickSize": 4, "tickColor": "#555", "labelFontSize": 21, "labelPadding": 9,
                      "title": "(Time, s)", "titleFontSize": 22, "titleX": 214.5, "titleY": 64.3, "titleAlign": "center", "titleBaseline": "alphabetic", "titleAnchor": null}},
       "y": {"field": "q", "type": "quantitative", "scale": {"domain": [0, 2.0946e-5], "nice": false, "zero": false},
             "axis": {"values": [0, 1e-5, 2e-5], "offset": -6, "domain": false,
                      "labelExpr": "datum.value == 0 ? '0.0' : datum.value == 2e-5 ? '2E-5' : ''",
                      "tickColor": "#555", "tickSize": {"condition": {"test": "datum.value == 1e-5", "value": 3}, "value": 6},
                      "labelFontSize": {"condition": {"test": "datum.value == 0", "value": 21}, "value": 20}, "labelPadding": 6, "title": null}},
       "color": {"field": "s", "type": "nominal", "scale": {"domain": ["0.125 V", "0.250 V", "0.5 V", "1 V", "2 V"], "range": ["#4a4a4a", "#ee3a3f", "#2468d8", "#2e9e5e", "#ad7de6"]}, "legend": null},
       "stroke": {"field": "s", "type": "nominal", "scale": {"domain": ["0.125 V", "0.250 V", "0.5 V", "1 V", "2 V"], "range": ["#4a4a4a", "#ee3a3f", "#2468d8", "#2e9e5e", "#ad7de6"]}, "legend": null}
     }},
    {"data": {"values": [{}]}, "mark": {"type": "rule", "color": "#555", "strokeWidth": 1.5},
     "encoding": {"x": {"datum": 0}, "y": {"datum": 0}, "x2": {"datum": 0}, "y2": {"datum": 2e-5}}},
    {"data": {"values": [{}]}, "mark": {"type": "rule", "color": "#555", "strokeWidth": 1.5},
     "encoding": {"x": {"datum": 0}, "y": {"datum": 0}, "x2": {"datum": 2}, "y2": {"datum": 0}}},
    {"data": {"values": [{}]}, "mark": {"type": "rule", "color": "#e8141c", "strokeWidth": 3, "strokeDash": [10, 6]},
     "encoding": {"x": {"datum": -2.398}, "y": {"datum": 2.2082e-6}, "x2": {"datum": 0.89}, "y2": {"datum": 11.72e-6}}},
    {"data": {"values": [{}]}, "mark": {"type": "point", "shape": "triangle-up", "filled": true, "size": 130, "angle": 77, "color": "#e8141c", "opacity": 1},
     "encoding": {"x": {"datum": 0.895}, "y": {"datum": 11.75e-6}}},
    {"data": {"values": [{}]}, "mark": {"type": "text", "text": "Diffusion-like", "fontSize": 22, "angle": 325, "color": "#e3262e", "align": "center", "baseline": "middle"},
     "encoding": {"x": {"datum": 1.772}, "y": {"datum": 8.246e-6}}},
    {"data": {"values": [{}]}, "mark": {"type": "text", "text": "0.5", "fontSize": 15, "color": "#1e1e1e", "align": "center", "baseline": "middle"},
     "encoding": {"x": {"datum": 1.3401}, "y": {"datum": -2.5237e-6}}},
    {"data": {"values": [{}]}, "mark": {"type": "text", "text": "(d)", "fontSize": 20, "fontWeight": "bold", "color": "#1a1a1a", "align": "center", "baseline": "middle"},
     "encoding": {"x": {"datum": 0.1713}, "y": {"datum": 2.1009e-5}}}
  ]
}
]
}
